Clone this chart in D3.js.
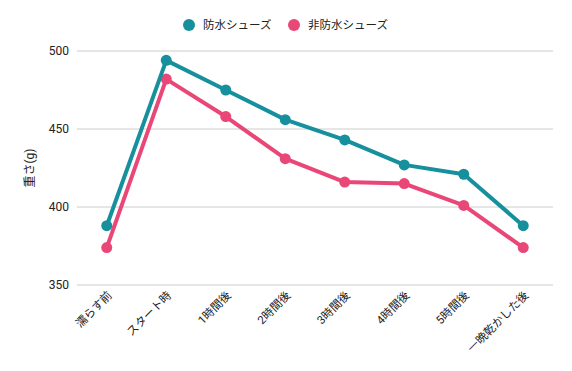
<!DOCTYPE html>
<html>
<head>
<meta charset="utf-8">
<script src="https://cdn.jsdelivr.net/npm/d3@7"></script>
<style>
  body { margin: 0; background: #fff; }
  text { font-family: Roboto, "Noto Sans CJK JP", sans-serif; }
</style>
</head>
<body>
<div id="chart"></div>
<script>
// Data
var categories = ["濡らす前", "スタート時", "1時間後", "2時間後", "3時間後", "4時間後", "5時間後", "一晩乾かした後"];
var waterproof = [388, 494, 475, 456, 443, 427, 421, 388];
var nonWaterproof = [374, 482, 458, 431, 416, 415, 401, 374];
var yTicks = [350, 400, 450, 500];
var seriesNames = ["防水シューズ", "非防水シューズ"];
var colors = ["#17909e", "#e84777"];

var width = 572, height = 371;
var margin = {top: 51, right: 19, bottom: 86, left: 77};

var svg = d3.select("#chart")
  .append("svg")
  .attr("width", width)
  .attr("height", height);

var x = d3.scaleBand()
  .domain(categories)
  .range([margin.left, width - margin.right]);

var y = d3.scaleLinear()
  .domain([350, 500])
  .range([height - margin.bottom, margin.top]);

// Gridlines
svg.append("g")
  .selectAll("line")
  .data(yTicks)
  .join("line")
  .attr("x1", margin.left)
  .attr("x2", width - margin.right)
  .attr("y1", d => y(d))
  .attr("y2", d => y(d))
  .attr("stroke", "#cccccc")
  .attr("stroke-width", 1);

// Y tick labels
svg.append("g")
  .selectAll("text")
  .data(yTicks)
  .join("text")
  .attr("x", margin.left - 8)
  .attr("y", d => y(d))
  .attr("dy", "0.35em")
  .attr("text-anchor", "end")
  .attr("font-size", 12)
  .attr("fill", "#222")
  .text(d => d);

// Y axis title
svg.append("text")
  .attr("transform", "translate(34," + y(425) + ") rotate(-90)")
  .attr("text-anchor", "middle")
  .attr("font-size", 12)
  .attr("fill", "#222")
  .text("重さ(g)");

// X labels
svg.append("g")
  .selectAll("text")
  .data(categories)
  .join("text")
  .attr("transform", d => "translate(" + (x(d) + x.bandwidth() / 2 + 6) + "," + (height - margin.bottom + 11) + ") rotate(-45)")
  .attr("text-anchor", "end")
  .attr("font-size", 11.5)
  .attr("fill", "#222")
  .text(d => d);

// Lines and points
var allSeries = [waterproof, nonWaterproof];
var line = d3.line()
  .x((d, i) => x(categories[i]) + x.bandwidth() / 2)
  .y(d => y(d));

// draw pink first so teal is on top where they overlap
[1, 0].forEach(function(s) {
  var g = svg.append("g");
  g.append("path")
    .datum(allSeries[s])
    .attr("fill", "none")
    .attr("stroke", colors[s])
    .attr("stroke-width", 4)
    .attr("stroke-linejoin", "round")
    .attr("d", line);
  g.selectAll("circle")
    .data(allSeries[s])
    .join("circle")
    .attr("cx", (d, i) => x(categories[i]) + x.bandwidth() / 2)
    .attr("cy", d => y(d))
    .attr("r", 5.5)
    .attr("fill", colors[s]);
});

// Legend
var legendX = [189, 294];
seriesNames.forEach(function(name, i) {
  svg.append("circle")
    .attr("cx", legendX[i])
    .attr("cy", 25)
    .attr("r", 6)
    .attr("fill", colors[i]);
  svg.append("text")
    .attr("x", legendX[i] + 14)
    .attr("y", 25)
    .attr("dy", "0.35em")
    .attr("font-size", 11.5)
    .attr("fill", "#222")
    .text(name);
});
</script>
</body>
</html>
